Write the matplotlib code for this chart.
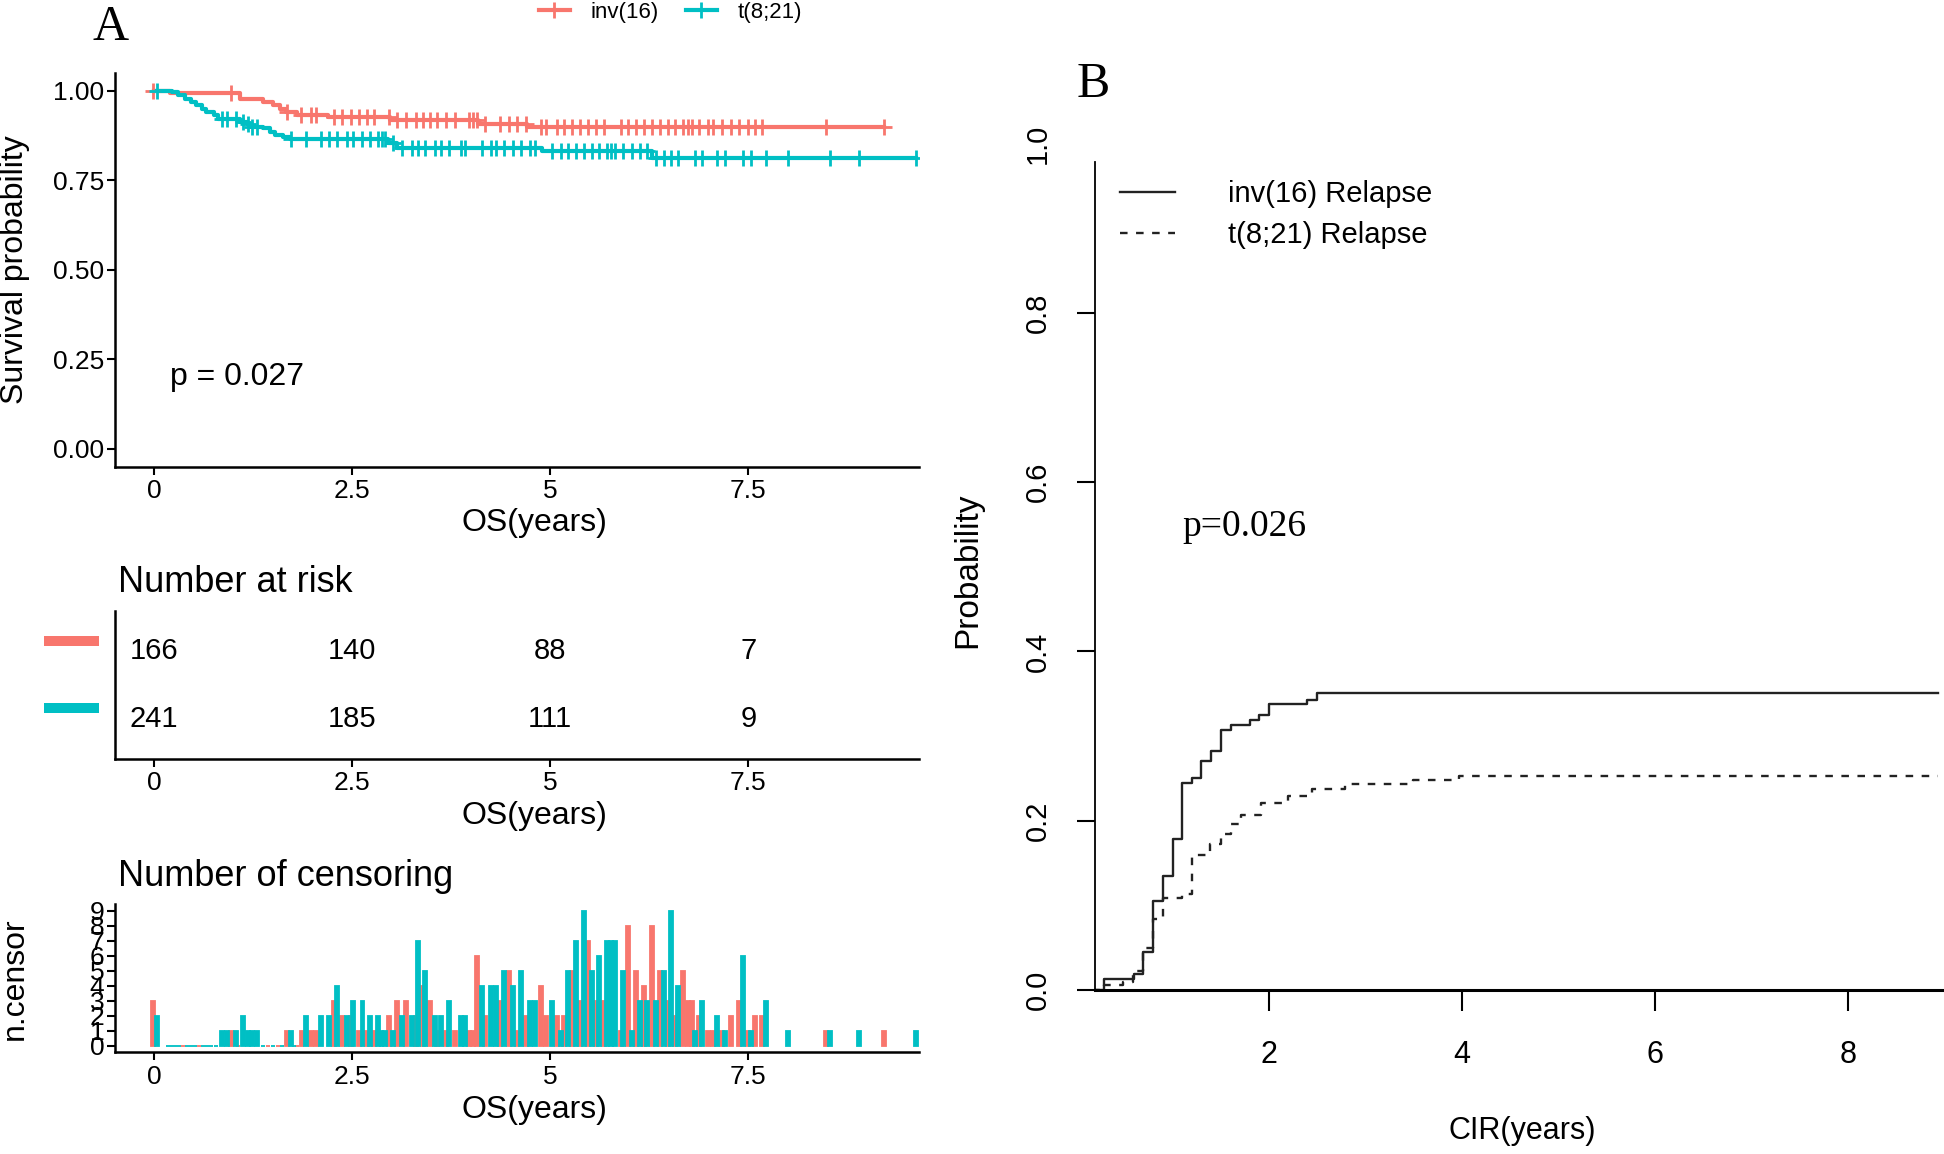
import numpy as np
import matplotlib
matplotlib.use('Agg')
import matplotlib.pyplot as plt
from matplotlib.lines import Line2D
from matplotlib.patches import Rectangle

plt.rcParams['font.family'] = ['Liberation Sans', 'DejaVu Sans']

RED = '#F8766D'
TEAL = '#00BFC4'
group_names = ['inv(16)', 't(8;21)']

# ---------------- Panel A : Kaplan-Meier (OS) ----------------
inv16_km_time = [0.0, 0.20, 1.08, 1.38, 1.50, 1.59, 1.67, 1.80, 2.20, 2.98, 4.09, 4.70]
inv16_km_surv = [1.000, 0.994, 0.976, 0.969, 0.960, 0.950, 0.941, 0.932, 0.927, 0.918, 0.908, 0.899]

t821_km_time = [0.0, 0.22, 0.30, 0.39, 0.47, 0.53, 0.60, 0.66, 0.75, 0.81, 1.08, 1.17, 1.23,
                1.38, 1.46, 1.52, 1.63, 1.71, 2.95, 3.06, 4.89, 6.28]
t821_km_surv = [1.000, 0.997, 0.988, 0.978, 0.969, 0.959, 0.950, 0.941, 0.932, 0.922, 0.913, 0.907, 0.899,
                0.895, 0.885, 0.876, 0.870, 0.864, 0.853, 0.839, 0.832, 0.812]

# number at risk
risk_times = [0, 2.5, 5, 7.5]
inv16_at_risk = [166, 140, 88, 7]
t821_at_risk = [241, 185, 111, 9]

# number of censoring
inv16_cens_time = [-0.02, 0.37, 0.57, 0.97, 1.06, 1.44, 1.56, 1.68, 1.80, 1.86, 1.98, 2.04, 2.27, 2.37,
                   2.48, 2.58, 2.69, 2.78, 2.97, 3.07, 3.18, 3.30, 3.39, 3.48, 3.57, 3.68, 3.80, 3.98,
                   4.03, 4.08, 4.18, 4.37, 4.48, 4.58, 4.69, 4.88, 4.95, 5.08, 5.17, 5.27, 5.38, 5.48,
                   5.58, 5.68, 5.89, 5.98, 6.08, 6.18, 6.28, 6.39, 6.48, 6.58, 6.68, 6.74, 6.79, 6.88,
                   6.99, 7.05, 7.17, 7.28, 7.38, 7.49, 7.58, 7.67, 8.48, 9.21]
inv16_cens_n = [3, 0, 0, 1, 0, 0, 0, 1, 0, 1, 1, 1, 3, 2,
                2, 1, 1, 1, 2, 3, 3, 2, 4, 3, 1, 1, 1, 1,
                1, 6, 2, 3, 5, 1, 2, 4, 2, 2, 2, 5, 3, 7,
                3, 3, 1, 8, 5, 4, 8, 5, 3, 2, 5, 3, 3, 2,
                1, 1, 1, 2, 3, 1, 2, 2, 1, 1]

t821_cens_time = [0.035, 0.17, 0.22, 0.27, 0.32, 0.42, 0.47, 0.52, 0.62, 0.67, 0.72, 0.78, 0.86, 0.92,
                  1.03, 1.12, 1.18, 1.24, 1.30, 1.38, 1.50, 1.61, 1.73, 1.77, 1.92, 2.11, 2.21, 2.31,
                  2.43, 2.51, 2.63, 2.73, 2.82, 2.87, 2.91, 3.01, 3.13, 3.25, 3.33, 3.42, 3.54, 3.62,
                  3.72, 3.87, 3.92, 4.14, 4.25, 4.31, 4.42, 4.53, 4.63, 4.75, 4.81, 5.02, 5.13, 5.22,
                  5.32, 5.42, 5.53, 5.61, 5.71, 5.77, 5.82, 5.92, 6.03, 6.13, 6.22, 6.33, 6.43, 6.52,
                  6.61, 6.83, 6.92, 7.11, 7.21, 7.43, 7.53, 7.72, 8.00, 8.53, 8.90, 9.61]
t821_cens_n = [2, 0, 0, 0, 0, 0, 0, 0, 0, 0, 0, 0, 1, 1,
               1, 2, 1, 1, 1, 0, 0, 0, 1, 0, 2, 2, 2, 4,
               2, 3, 3, 2, 2, 1, 1, 1, 2, 2, 7, 5, 2, 2,
               3, 2, 2, 4, 4, 4, 5, 4, 5, 3, 3, 3, 1, 5,
               7, 9, 5, 6, 7, 7, 7, 5, 1, 3, 3, 3, 5, 9,
               4, 1, 3, 2, 1, 6, 1, 3, 1, 1, 1, 1]

# ---------------- Panel B : cumulative incidence of relapse ----------------
cir_inv16_time = [0.0, 0.294, 0.608, 0.696, 0.801, 0.906, 1.003, 1.105, 1.203, 1.301, 1.406,
                  1.500, 1.605, 1.804, 1.902, 2.000, 2.399, 2.503]
cir_inv16_prob = [0.0, 0.0135, 0.019, 0.045, 0.105, 0.135, 0.178, 0.245, 0.251, 0.270, 0.282,
                  0.307, 0.313, 0.319, 0.325, 0.338, 0.343, 0.351]
cir_t821_time = [0.0, 0.294, 0.486, 0.591, 0.696, 0.801, 0.906, 1.105, 1.203, 1.395, 1.500,
                 1.605, 1.710, 1.920, 2.199, 2.444, 2.794, 3.49, 3.97]
cir_t821_prob = [0.0, 0.006, 0.010, 0.023, 0.050, 0.084, 0.109, 0.114, 0.160, 0.173, 0.184,
                 0.196, 0.207, 0.221, 0.229, 0.238, 0.243, 0.248, 0.253]
cir_end_time = 8.93
cir_labels = ['inv(16) Relapse', 't(8;21) Relapse']


def step_eval(tk, sk, x):
    tk = np.asarray(tk); sk = np.asarray(sk)
    idx = np.searchsorted(tk, x, side='right') - 1
    idx = np.clip(idx, 0, len(sk) - 1)
    return sk[idx]


fig = plt.figure(figsize=(19.44, 11.54), dpi=100)

XLIM = (-0.49, 9.65)
AX_LEFT, AX_W = 0.05931, 0.41327
LAB_FS = 23
TICK_FS = 19

# ---- top KM plot
ax1 = fig.add_axes([AX_LEFT, 0.59541, AX_W, 0.34159])
km = [(inv16_km_time, inv16_km_surv, inv16_cens_time, inv16_cens_n, RED),
      (t821_km_time, t821_km_surv, t821_cens_time, t821_cens_n, TEAL)]
for kt, ks, ct, cn, col in km:
    ct = np.asarray(ct); cn = np.asarray(cn)
    end = ct.max()
    ax1.step(np.append(kt, end), np.append(ks, ks[-1]), where='post', color=col, lw=3.0, zorder=3)
    m = cn > 0
    ax1.plot(ct[m], step_eval(kt, ks, ct[m]), ls='none', marker='+', ms=12, mew=2.0,
             color=col, zorder=4)
ax1.set_xlim(*XLIM)
ax1.set_ylim(-0.05, 1.05)
ax1.set_xticks(risk_times)
ax1.set_xticklabels(['0', '2.5', '5', '7.5'])
ax1.set_yticks([0, 0.25, 0.5, 0.75, 1.0])
ax1.set_yticklabels(['0.00', '0.25', '0.50', '0.75', '1.00'])
ax1.text(0.2, 0.20, 'p = 0.027', fontsize=23, ha='left', va='center')
ax1.set_ylabel('Survival probability', fontsize=LAB_FS, va='center')
ax1.yaxis.set_label_coords(-0.125, 0.5)
ax1.set_xlabel('OS(years)', fontsize=LAB_FS, va='center')
ax1.xaxis.set_label_coords(0.522, -0.142)

# legend at top
handles = [Line2D([], [], color=RED, lw=3.0, marker='+', ms=12, mew=2.0),
           Line2D([], [], color=TEAL, lw=3.0, marker='+', ms=12, mew=2.0)]
fig.legend(handles, group_names, loc='center', bbox_to_anchor=(0.345, 0.989), ncol=2,
           frameon=False, fontsize=16, handlelength=1.4, handletextpad=0.95,
           columnspacing=1.2, borderpad=0, borderaxespad=0)

# ---- risk table
ax2 = fig.add_axes([AX_LEFT, 0.34229, AX_W, 0.12825])
for i, t in enumerate(risk_times):
    ax2.text(t, 2, str(inv16_at_risk[i]), fontsize=21, ha='center', va='center')
    ax2.text(t, 1, str(t821_at_risk[i]), fontsize=21, ha='center', va='center')
ax2.set_xlim(*XLIM)
ax2.set_ylim(0.4, 2.6)
ax2.set_yticks([])
ax2.set_xticks(risk_times)
ax2.set_xticklabels(['0', '2.5', '5', '7.5'])
ax2.set_xlabel('OS(years)', fontsize=LAB_FS, va='center')
ax2.xaxis.set_label_coords(0.522, -0.385)
ax2.text(0.003, 1.19, 'Number at risk', transform=ax2.transAxes, fontsize=26,
         ha='left', va='center')
for yc, col in [(0.797, RED), (0.347, TEAL)]:
    ax2.add_patch(Rectangle((-0.0882, yc - 0.034), 0.068, 0.068, transform=ax2.transAxes,
                            facecolor=col, edgecolor='none', clip_on=False))

# ---- number of censoring
ax3 = fig.add_axes([AX_LEFT, 0.08796, AX_W, 0.12868])
ax3.bar(inv16_cens_time, inv16_cens_n, width=0.05, color=RED, edgecolor=RED, linewidth=1.3,
        zorder=2)
ax3.bar(t821_cens_time, t821_cens_n, width=0.05, color=TEAL, edgecolor=TEAL, linewidth=1.3,
        zorder=2)
ax3.set_xlim(*XLIM)
ax3.set_ylim(-0.45, 9.45)
ax3.set_yticks(range(10))
ax3.set_yticklabels([str(i) for i in range(10)])
ax3.set_xticks(risk_times)
ax3.set_xticklabels(['0', '2.5', '5', '7.5'])
ax3.set_xlabel('OS(years)', fontsize=LAB_FS, va='center')
ax3.xaxis.set_label_coords(0.522, -0.387)
ax3.set_ylabel('n.censor', fontsize=LAB_FS, va='center')
ax3.yaxis.set_label_coords(-0.125, 0.5)
ax3.text(0.003, 1.185, 'Number of censoring', transform=ax3.transAxes, fontsize=26,
         ha='left', va='center')

for ax in (ax1, ax2, ax3):
    for s in ('top', 'right'):
        ax.spines[s].set_visible(False)
    for s in ('left', 'bottom'):
        ax.spines[s].set_linewidth(1.8)
    ax.tick_params(axis='both', length=6, width=1.5, labelsize=TICK_FS, colors='black')
    ax.tick_params(axis='y', pad=2)
    ax.tick_params(axis='x', pad=3)

# ---- Panel B
ax4 = fig.add_axes([0.56312, 0.14211, 0.43688, 0.73354])
ax4.step(np.append(cir_inv16_time, cir_end_time), np.append(cir_inv16_prob, cir_inv16_prob[-1]),
         where='post', color='#222222', lw=1.7, label=cir_labels[0])
ax4.step(np.append(cir_t821_time, cir_end_time), np.append(cir_t821_prob, cir_t821_prob[-1]),
         where='post', color='#222222', lw=1.7, ls=(0, (3.2, 3.6)), label=cir_labels[1])
ax4.set_xlim(0.196, 8.997)
ax4.set_ylim(0, 1.0)
ax4.spines['top'].set_visible(False)
ax4.spines['right'].set_visible(False)
ax4.spines['left'].set_bounds(0, 0.978)
ax4.spines['left'].set_linewidth(1.3)
ax4.spines['bottom'].set_linewidth(2.2)
ax4.set_xticks([2, 4, 6, 8])
ax4.set_xticklabels(['2', '4', '6', '8'])
ax4.set_yticks([0, 0.2, 0.4, 0.6, 0.8, 1.0])
ax4.set_yticklabels(['0.0', '0.2', '0.4', '0.6', '0.8', '1.0'])
ax4.tick_params(axis='x', length=15, width=1.5, labelsize=22, pad=21)
ax4.tick_params(axis='y', length=13, width=1.5, labelsize=21, pad=18, labelrotation=90)
for lab in ax4.get_yticklabels():
    lab.set_va('center')
ax4.yaxis.get_major_ticks()[-1].tick1line.set_visible(False)
ax4.set_xlabel('CIR(years)', fontsize=22, va='center')
ax4.xaxis.set_label_coords(0.503, -0.1666)
ax4.set_ylabel('Probability', fontsize=24, va='center')
ax4.yaxis.set_label_coords(-0.150, 0.496)
ax4.text(1.10, 0.547, 'p=0.026', fontsize=27, family='Liberation Serif', ha='left', va='center')
ax4.legend(loc='upper left', bbox_to_anchor=(0.0298, 0.957), frameon=False, fontsize=21,
           handlelength=1.9, handletextpad=1.8, labelspacing=0.45, borderpad=0,
           borderaxespad=0)

# panel letters
fig.text(89.5 / 1568, 1 - 22 / 931, 'A', fontsize=36, family='Liberation Serif',
         ha='center', va='center')
fig.text(882 / 1568, 1 - 68 / 931, 'B', fontsize=36, family='Liberation Serif',
         ha='center', va='center')

fig.savefig('out.png', dpi=100)
